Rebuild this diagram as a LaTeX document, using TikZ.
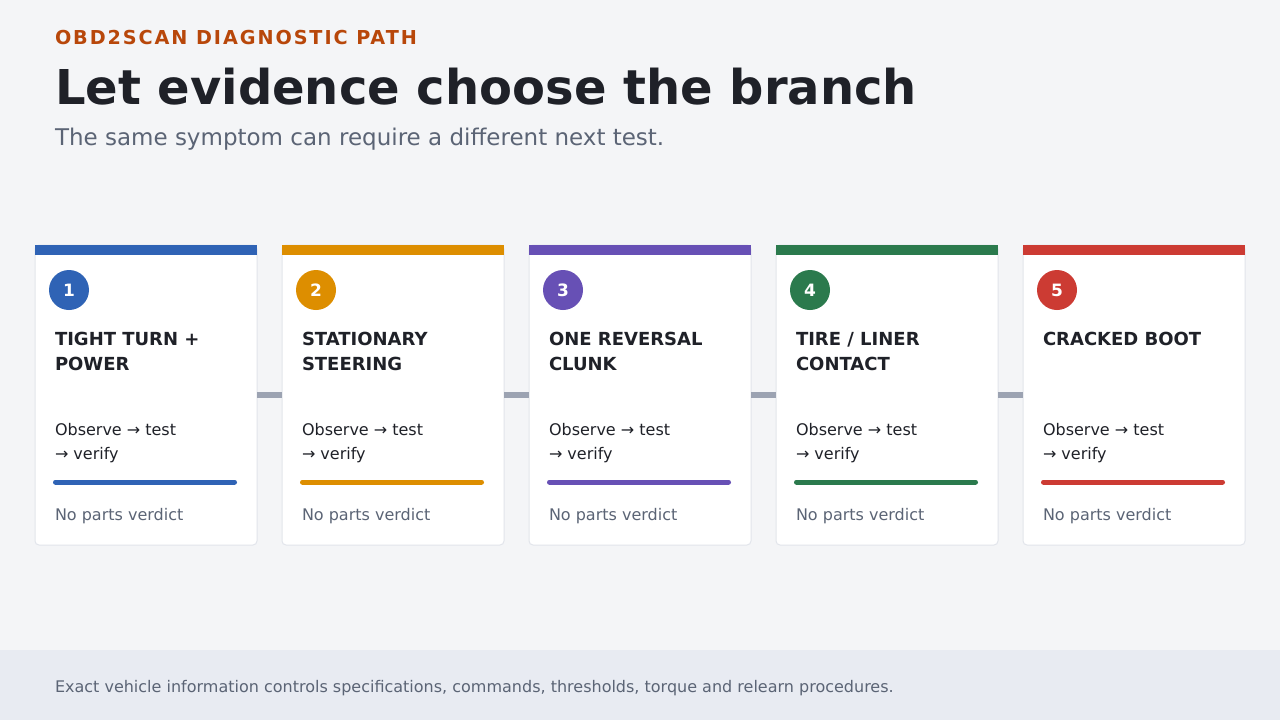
\documentclass[tikz,border=0pt]{standalone}
\usepackage{fontspec}
\setmainfont{DejaVu Sans}
\newfontfamily\kickerfont[LetterSpace=10]{DejaVu Sans}
\definecolor{bgc}{HTML}{F4F5F7}
\definecolor{footc}{HTML}{E8EBF2}
\definecolor{kick}{HTML}{B8470A}
\definecolor{ink}{HTML}{1F2128}
\definecolor{muted}{HTML}{5B6475}
\definecolor{cardline}{HTML}{E2E5EB}
\definecolor{conn}{HTML}{9CA3B2}
\definecolor{cA}{HTML}{2F63B5}
\definecolor{cB}{HTML}{DD8E00}
\definecolor{cC}{HTML}{6750B5}
\definecolor{cD}{HTML}{2B7A4D}
\definecolor{cE}{HTML}{CC3B33}
\begin{document}
\begin{tikzpicture}[x=1pt,y=-1pt,
  txt/.style={anchor=base west,inner sep=0pt,outer sep=0pt},
  cardbox/.style={draw=cardline,line width=1pt,fill=white,rounded corners=4pt},
  connbar/.style={draw=conn,line width=6pt},
  numdot/.style={circle,minimum size=40pt,inner sep=0pt,text=white,font=\fontsize{17}{20}\selectfont\bfseries},
  headtxt/.style={txt,text=ink,font=\fontsize{18}{25}\selectfont\bfseries},
  bodytxt/.style={txt,text=ink,font=\fontsize{16}{24}\selectfont},
  verdict/.style={txt,text=muted,font=\fontsize{16}{20}\selectfont}]
\useasboundingbox (0,0) rectangle (1280,720);
\fill[bgc] (0,0) rectangle (1280,720);
\fill[footc] (0,650) rectangle (1280,720);
\node[txt,text=kick,font=\fontsize{19.2}{22}\kickerfont\bfseries] (kicker) at (55,44) {OBD2SCAN DIAGNOSTIC PATH};
\node[txt,text=ink,font=\fontsize{48}{52}\selectfont\bfseries] (title) at (55,104) {Let evidence choose the branch};
\node[txt,text=muted,font=\fontsize{23}{26}\selectfont] (sub) at (55,145) {The same symptom can require a different next test.};
\node[txt,text=muted,font=\fontsize{16}{20}\selectfont] (foot) at (55,692) {Exact vehicle information controls specifications, commands, thresholds, torque and relearn procedures.};
% cards
\foreach \i/\col/\num/\hA/\hB in {0/cA/1/{TIGHT TURN +}/POWER,1/cB/2/STATIONARY/STEERING,2/cC/3/{ONE REVERSAL}/CLUNK,3/cD/4/{TIRE / LINER}/CONTACT,4/cE/5/{CRACKED BOOT}/{}}{
  \pgfmathsetmacro{\xo}{35+247*\i}
  \coordinate (c\num nw) at (\xo,245);
  \coordinate (c\num se) at (\xo+222,545);
  \draw[cardbox] (c\num nw) rectangle (c\num se);
  \fill[\col] (\xo,245) rectangle (\xo+222,255);
  \node[numdot,fill=\col] (n\num) at (\xo+34,290) {\num};
  \node[headtxt] (ha\num) at (\xo+20,345.5) {\hA};
  \node[headtxt] (hb\num) at (\xo+20,370) {\hB};
  \node[bodytxt] (ba\num) at (\xo+20,435) {Observe → test};
  \node[bodytxt] (bb\num) at (\xo+20,459) {→ verify};
  \coordinate (bl\num) at (\xo+20.5,482);
  \coordinate (br\num) at (\xo+199.5,482);
  \draw[\col,line width=5pt,line cap=round] (bl\num) -- (br\num);
  \node[verdict] (v\num) at (\xo+20,520) {No parts verdict};
}
% connectors
\foreach \a/\b in {1/2,2/3,3/4,4/5}{
  \coordinate (ca\a) at (c\a se |- 0,395);
  \coordinate (cb\b) at (c\b nw |- 0,395);
  \draw[connbar] (ca\a) -- (cb\b);
}
\end{tikzpicture}
\end{document}
